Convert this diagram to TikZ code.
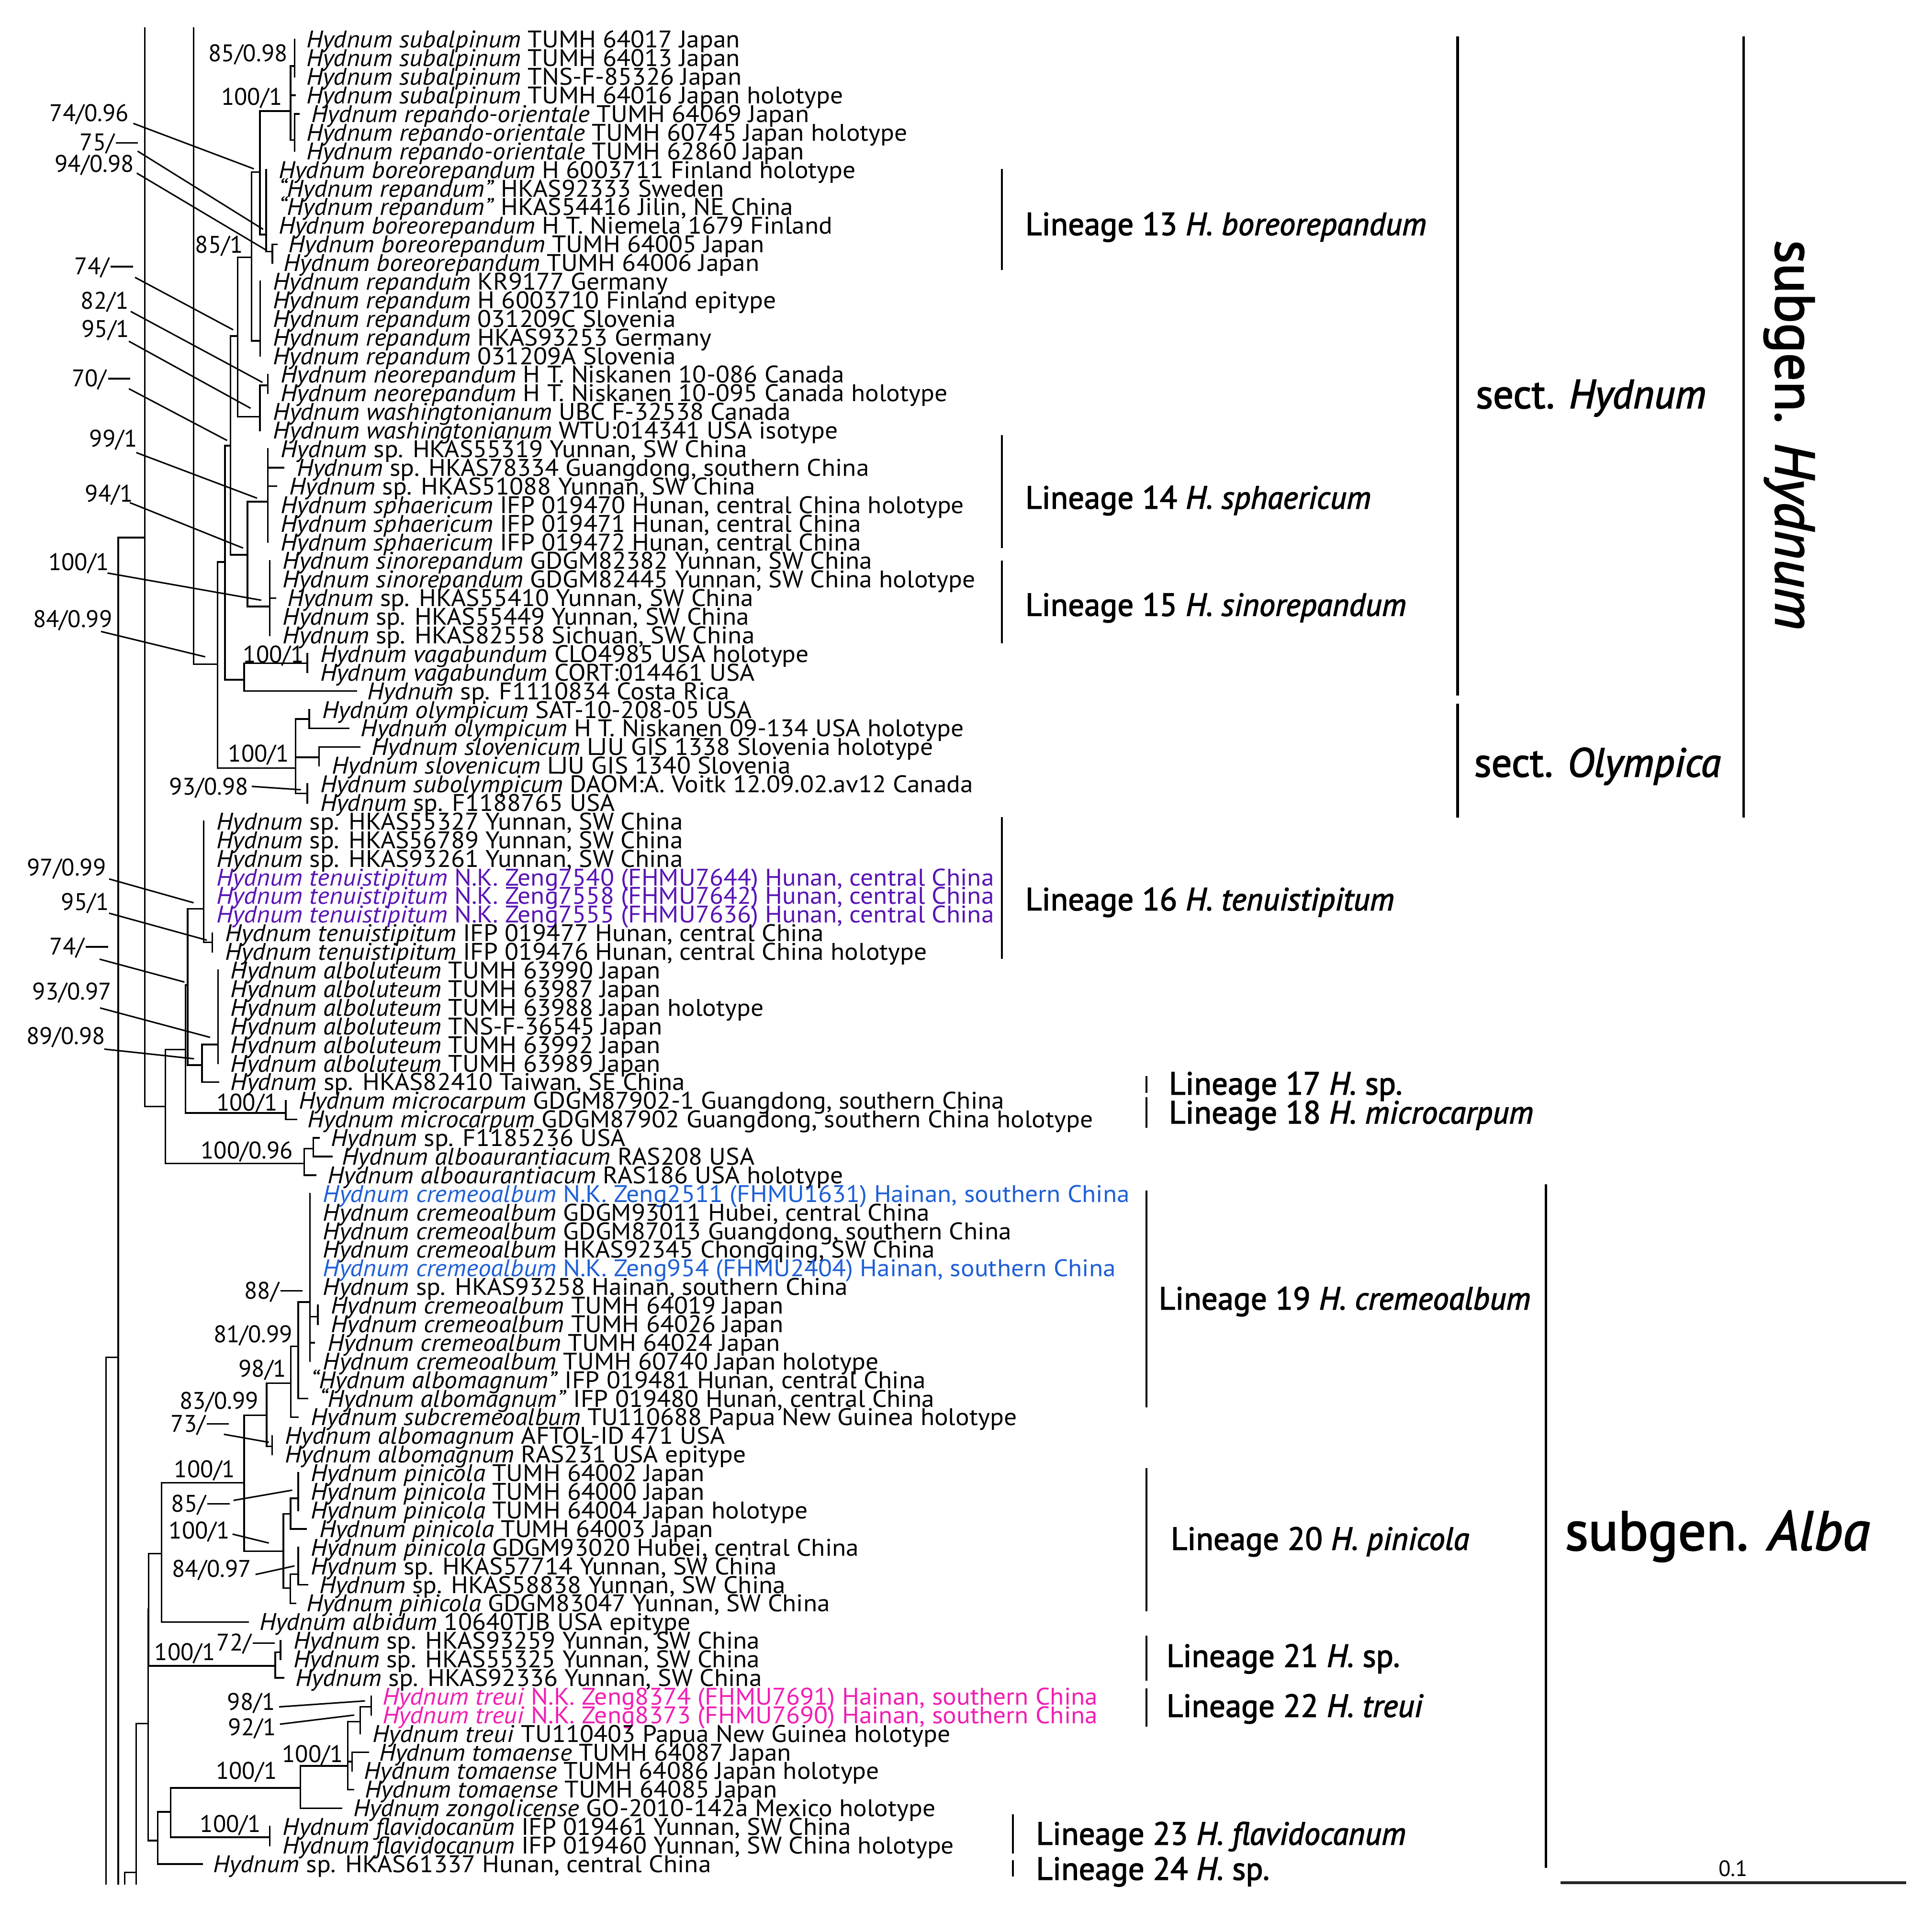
\documentclass[tikz,border=0pt]{standalone}
\usepackage{fontspec}
\setmainfont{PT Sans}
\newfontfamily\spfont[FakeStretch=1.065]{PT Sans}
\newfontfamily\labfont[FakeBold=2.2]{PT Sans}
\definecolor{purp}{RGB}{88,20,180}
\definecolor{blu}{RGB}{30,95,215}
\definecolor{mag}{RGB}{240,30,180}
\pgfmathdeclarefunction{yy}{1}{\pgfmathparse{(#1-16.89)/15.11}}
\newcommand{\dsh}{\hspace{0.06em}\rule[0.3em]{0.92em}{1.25pt}}
\tikzset{
 br/.style={line width=1.3pt, line cap=rect},
 tx/.style={anchor=base west, inner sep=0pt, yshift=-6.8pt, font=\spfont\fontsize{19.5}{19.5}\selectfont},
 sl/.style={anchor=base, inner sep=0pt, yshift=-6.8pt, font=\fontsize{19.5}{19.5}\selectfont},
 ptr/.style={line width=1.2pt},
 lbar/.style={line width=1.6pt},
 sbar/.style={line width=2pt},
 lin/.style={anchor=base west, inner sep=0pt, yshift=-8.8pt, font=\labfont\fontsize{26}{26}\selectfont},
}
\begin{document}
\begin{tikzpicture}[x=1pt,y=-15.11pt]
\fill[white] (0,-1.1178) rectangle (1568,101.463);
\useasboundingbox (0,-1.1178) rectangle (1568,101.463);

% ---------------- tree ----------------
\begin{scope}[br]
% root / long lines
\draw (117.6,0.4) -- (117.6,58.32);
\draw (157.1,0.4) -- (157.1,34.55);
\draw (95.9,27.76) -- (117.6,27.76);
\draw (95.9,27.76) -- (95.9,100.07);
\draw (86.1,71.78) -- (95.9,71.78);
\draw (86.1,71.78) -- (86.1,100.07);
\draw (110.6,91.46) -- (110.6,100.07);
\draw (101.1,99.45) -- (110.6,99.45);
\draw (101.1,99.45) -- (101.1,100.07);
% subalpinum / repando-orientale
\draw (239,1) -- (239,3);
\draw (235.8,2.43) -- (239,2.43);
\draw (235.8,2.43) -- (235.8,6.41);
\draw (235.8,4) -- (239.5,4);
\draw (235.8,6.41) -- (239,6.41);
\draw (239,5) -- (239,7);
\draw (239,5) -- (242.4,5);
\draw (210.9,4.85) -- (235.8,4.85);
\draw (210.9,4.85) -- (210.9,11.48);
\draw (204.2,8.12) -- (210.9,8.12);
% lineage 13
\draw (210.9,11.48) -- (216,11.48);
\draw (216,8) -- (216,12.4);
\draw (216,12.4) -- (221,12.4);
\draw (221,12) -- (221,13);
\draw (221,12) -- (224.7,12);
\draw (204.2,8.12) -- (204.2,17.19);
\draw (193,12.71) -- (204.2,12.71);
% repandum
\draw (204.2,17.19) -- (211.2,17.19);
\draw (211.2,14) -- (211.2,18);
\draw (193,12.71) -- (193,21.26);
\draw (187,16.93) -- (193,16.93);
% neorepandum / washingtonianum
\draw (193,21.26) -- (211,21.26);
\draw (211,19.58) -- (211,22);
\draw (211,19.58) -- (217.3,19.58);
\draw (217.3,19) -- (217.3,20);
\draw (187,16.93) -- (187,28.68);
\draw (182.6,22.82) -- (187,22.82);
% lineage 14 / 15
\draw (187,28.68) -- (200.8,28.68);
\draw (200.8,25.83) -- (200.8,31.46);
\draw (200.8,25.83) -- (217.3,25.83);
\draw (217.3,23) -- (217.3,28);
\draw (217.3,24) -- (230.3,24);
\draw (217.3,25) -- (224.2,25);
\draw (200.8,31.46) -- (219,31.46);
\draw (219,29) -- (219,33);
\draw (219,31) -- (223.4,31);
\draw (182.6,22.82) -- (182.6,35.39);
\draw (176.5,29.07) -- (182.6,29.07);
% vagabundum
\draw (182.6,35.39) -- (198.2,35.39);
\draw (198.2,34.5) -- (198.2,36);
\draw (198.2,34.5) -- (249.4,34.5);
\draw (249.4,34) -- (249.4,35);
\draw (198.2,36) -- (289.2,36);
\draw (176.5,29.07) -- (176.5,40.13);
\draw (157.1,34.55) -- (176.5,34.55);
% olympica
\draw (176.5,40.13) -- (239.8,40.13);
\draw (239.8,37.5) -- (239.8,41.5);
\draw (239.8,37.5) -- (251,37.5);
\draw (251,37) -- (251,38);
\draw (251,38) -- (283,38);
\draw (239.8,39.56) -- (258.9,39.56);
\draw (258.9,39) -- (258.9,40);
\draw (258.9,39) -- (291.9,39);
\draw (239.8,41.5) -- (249.4,41.5);
\draw (249.4,41) -- (249.4,42);
% lineage 16
\draw (152.3,47.7) -- (165.3,47.7);
\draw (165.3,43) -- (165.3,49.5);
\draw (165.3,49.5) -- (172.2,49.5);
\draw (172.2,49) -- (172.2,50);
% alboluteum
\draw (152.3,47.7) -- (152.3,56.09);
\draw (152.3,56.09) -- (163.9,56.09);
\draw (163.9,54.98) -- (163.9,57);
\draw (163.9,54.98) -- (176.9,54.98);
\draw (176.9,51) -- (176.9,56);
\draw (163.9,57) -- (177.4,57);
\draw (150.5,51.8) -- (152.3,51.8);
% microcarpum
\draw (150.5,51.8) -- (150.5,58.66);
\draw (150.5,58.66) -- (232,58.66);
\draw (232,58) -- (232,59);
\draw (232,59) -- (240.7,59);
\draw (134.1,55.26) -- (150.5,55.26);
\draw (134.1,55.26) -- (134.1,61.38);
\draw (117.6,58.32) -- (134.1,58.32);
% alboaurantiacum
\draw (134.1,61.38) -- (246.8,61.38);
\draw (246.8,60.58) -- (246.8,62);
\draw (246.8,60.58) -- (254.2,60.58);
\draw (254.2,60) -- (254.2,61);
\draw (254.2,60) -- (259,60);
\draw (254.2,61) -- (269.3,61);
\draw (246.8,62) -- (256.3,62);
% lineage 19
\draw (251.6,63) -- (251.6,72);
\draw (251.6,69.6) -- (258,69.6);
\draw (258,69) -- (258,70);
\draw (251.6,71) -- (255,71);
\draw (242,68.82) -- (251.6,68.82);
\draw (242,68.82) -- (242,74);
\draw (242,74) -- (249.4,74);
\draw (236,71.2) -- (242,71.2);
\draw (236,71.2) -- (236,75);
\draw (236,75) -- (241.6,75);
\draw (216.4,73.17) -- (236,73.17);
\draw (216.4,73.17) -- (216.4,76.57);
\draw (216.4,76.57) -- (220.8,76.57);
\draw (220.8,76) -- (220.8,77);
\draw (198.2,74.9) -- (216.4,74.9);
\draw (198.2,74.9) -- (198.2,82.2);
\draw (198.2,82.2) -- (230,82.2);
% lineage 20
\draw (230,80.19) -- (230,84.18);
\draw (230,80.19) -- (235.8,80.19);
\draw (235.8,79.36) -- (235.8,81);
\draw (235.8,79.36) -- (242,79.36);
\draw (242,78) -- (242,80);
\draw (235.8,81) -- (248.5,81);
\draw (230,84.18) -- (235.5,84.18);
\draw (235.5,83.43) -- (235.5,85);
\draw (235.5,83.43) -- (242,83.43);
\draw (242,82) -- (242,84);
\draw (242,84) -- (249.4,84);
\draw (235.5,85) -- (239.8,85);
\draw (131.1,78.52) -- (198.2,78.52);
\draw (131.1,78.52) -- (131.1,86);
\draw (131.1,86) -- (201.2,86);
\draw (120.7,82.32) -- (131.1,82.32);
% lineage 21
\draw (120.7,82.32) -- (120.7,88.36);
\draw (120.7,88.36) -- (223.4,88.36);
\draw (223.4,87.62) -- (223.4,89);
\draw (223.4,87.62) -- (227.7,87.62);
\draw (227.7,87) -- (227.7,88);
\draw (223.4,89) -- (230.3,89);
\draw (120.2,85.31) -- (120.7,85.31);
\draw (120.2,85.31) -- (120.2,97.74);
\draw (110.6,91.46) -- (120.2,91.46);
\draw (120.2,97.74) -- (128,97.74);
% lower clades
\draw (128,96.2) -- (128,99);
\draw (128,99) -- (164,99);
\draw (128,96.2) -- (138.4,96.2);
\draw (138.4,94.91) -- (138.4,97.56);
\draw (138.4,97.56) -- (219,97.56);
\draw (219,97) -- (219,98);
\draw (138.4,94.91) -- (243.8,94.91);
\draw (243.8,93.73) -- (243.8,96);
\draw (243.8,96) -- (277.1,96);
\draw (243.8,93.73) -- (282.3,93.73);
\draw (282.3,91.35) -- (282.3,95);
\draw (282.3,95) -- (287,95);
\draw (282.3,93.5) -- (285.8,93.5);
\draw (285.8,93) -- (285.8,94);
\draw (285.8,93) -- (298.8,93);
\draw (282.3,91.35) -- (292.4,91.35);
\draw (292.4,90.56) -- (292.4,92);
\draw (292.4,90.56) -- (301.4,90.56);
\draw (301.4,90) -- (301.4,91);
\end{scope}

% ---------------- pointer lines ----------------
\begin{scope}[ptr]
\draw (108.2,5.51) -- (206,7.95);
\draw (111.7,7.0) -- (213.6,11.2);
\draw (111,8.18) -- (216.4,12.33);
\draw (109.6,13.78) -- (189.3,16.6);
\draw (106.1,15.61) -- (213,19.42);
\draw (104.6,17.21) -- (203.4,20.81);
\draw (104.6,19.76) -- (184.3,22.54);
\draw (110.6,23.19) -- (208.6,25.64);
\draw (105.4,25.88) -- (197.3,28.32);
\draw (87.2,29.66) -- (212,31.12);
\draw (82,32.8) -- (166.5,34.16);
\draw (204.3,41.12) -- (244.2,41.3);
\draw (88.5,46.09) -- (157.1,47.37);
\draw (88.5,47.93) -- (167.9,49.38);
\draw (80.8,50.4) -- (149.7,51.63);
\draw (81.2,53.02) -- (170.5,54.6);
\draw (84.6,55.23) -- (157.5,55.75);
\draw (181.7,75.92) -- (218.2,76.35);
\draw (189.5,79.47) -- (237.2,78.92);
\draw (188.7,81.28) -- (218.2,81.76);
\draw (207.4,83.45) -- (239,82.99);
\draw (226.5,90.56) -- (296.2,90.24);
\draw (227.2,91.49) -- (287.5,91.0);
\end{scope}

% ---------------- support values ----------------
\node[sl] (s1) at (201.3,1.73) {85/0.98};
\node[sl] (s2) at (204.3,4.07) {100/1};
\node[sl] (s3) at (72.4,4.96) {74/0.96};
\node[sl] (s4) at (88.4,6.53) {75/\dsh};
\node[sl] (s5) at (76.6,7.68) {94/0.98};
\node[sl] (s6) at (177.9,12.03) {85/1};
\node[sl] (s7) at (84.2,13.18) {74/\dsh};
\node[sl] (s8) at (85,15.02) {82/1};
\node[sl] (s9) at (85.6,16.55) {95/1};
\node[sl] (s10) at (82,19.2) {70/\dsh};
\node[sl] (s11) at (92,22.43) {99/1};
\node[sl] (s12) at (88.5,25.4) {94/1};
\node[sl] (s13) at (64,29.07) {100/1};
\node[sl] (s14) at (59,32.13) {84/0.99};
\node[sl] (s15) at (222,34.04) {100/1};
\node[sl] (s16) at (209.9,39.35) {100/1};
\node[sl] (s17) at (169.6,41.12) {93/0.98};
\node[sl] (s18) at (54,45.47) {97/0.99};
\node[sl] (s19) at (69,47.32) {95/1};
\node[sl] (s20) at (64,49.72) {74/\dsh};
\node[sl] (s21) at (58.5,52.13) {93/0.97};
\node[sl] (s22) at (53.5,54.53) {89/0.98};
\node[sl] (s23) at (200.4,58.1) {100/1};
\node[sl] (s24) at (200.4,60.66) {100/0.96};
\node[sl] (s25) at (222,68.19) {88/\dsh};
\node[sl] (s26) at (205.4,70.55) {81/0.99};
\node[sl] (s27) at (213,72.39) {98/1};
\node[sl] (s28) at (177.8,74.12) {83/0.99};
\node[sl] (s29) at (162.2,75.34) {73/\dsh};
\node[sl] (s30) at (166.1,77.8) {100/1};
\node[sl] (s31) at (162.7,79.64) {85/\dsh};
\node[sl] (s32) at (161.8,81.09) {100/1};
\node[sl] (s33) at (171.8,83.15) {84/0.97};
\node[sl] (s34) at (150.1,87.62) {100/1};
\node[sl] (s35) at (199.5,87.11) {72/\dsh};
\node[sl] (s36) at (203.9,90.28) {98/1};
\node[sl] (s37) at (204.7,91.64) {92/1};
\node[sl] (s38) at (253.7,93.1) {100/1};
\node[sl] (s39) at (200,94.0) {100/1};
\node[sl] (s40) at (187,96.83) {100/1};

% ---------------- taxa ----------------
\node[tx] (t1) at (248.5,1) {\textit{Hydnum subalpinum} TUMH 64017 Japan};
\node[tx] (t2) at (248.5,2) {\textit{Hydnum subalpinum} TUMH 64013 Japan};
\node[tx] (t3) at (248.5,3) {\textit{Hydnum subalpinum} TNS-F-85326 Japan};
\node[tx] (t4) at (248.5,4) {\textit{Hydnum subalpinum} TUMH 64016 Japan holotype};
\node[tx] (t5) at (252.5,5) {\textit{Hydnum repando-orientale} TUMH 64069 Japan};
\node[tx] (t6) at (248.5,6) {\textit{Hydnum repando-orientale} TUMH 60745 Japan holotype};
\node[tx] (t7) at (248.5,7) {\textit{Hydnum repando-orientale} TUMH 62860 Japan};
\node[tx] (t8) at (226,8) {\textit{Hydnum boreorepandum} H 6003711 Finland holotype};
\node[tx] (t9) at (226,9) {\textit{“Hydnum repandum”} HKAS92333 Sweden};
\node[tx] (t10) at (226,10) {\textit{“Hydnum repandum”} HKAS54416 Jilin, NE China};
\node[tx] (t11) at (226,11) {\textit{Hydnum boreorepandum} H T. Niemela 1679 Finland};
\node[tx] (t12) at (234,12) {\textit{Hydnum boreorepandum} TUMH 64005 Japan};
\node[tx] (t13) at (230,13) {\textit{Hydnum boreorepandum} TUMH 64006 Japan};
\node[tx] (t14) at (221.5,14) {\textit{Hydnum repandum} KR9177 Germany};
\node[tx] (t15) at (221.5,15) {\textit{Hydnum repandum} H 6003710 Finland epitype};
\node[tx] (t16) at (221.5,16) {\textit{Hydnum repandum} 031209C Slovenia};
\node[tx] (t17) at (221.5,17) {\textit{Hydnum repandum} HKAS93253 Germany};
\node[tx] (t18) at (221.5,18) {\textit{Hydnum repandum} 031209A Slovenia};
\node[tx] (t19) at (227.7,19) {\textit{Hydnum neorepandum} H T. Niskanen 10-086 Canada};
\node[tx] (t20) at (227.7,20) {\textit{Hydnum neorepandum} H T. Niskanen 10-095 Canada holotype};
\node[tx] (t21) at (221.6,21) {\textit{Hydnum washingtonianum} UBC F-32538 Canada};
\node[tx] (t22) at (221.6,22) {\textit{Hydnum washingtonianum} WTU:014341 USA isotype};
\node[tx] (t23) at (227.7,23) {\textit{Hydnum} sp. HKAS55319 Yunnan, SW China};
\node[tx] (t24) at (240.7,24) {\textit{Hydnum} sp. HKAS78334 Guangdong, southern China};
\node[tx] (t25) at (234.6,25) {\textit{Hydnum} sp. HKAS51088 Yunnan, SW China};
\node[tx] (t26) at (227.7,26) {\textit{Hydnum sphaericum} IFP 019470 Hunan, central China holotype};
\node[tx] (t27) at (227.7,27) {\textit{Hydnum sphaericum} IFP 019471 Hunan, central China};
\node[tx] (t28) at (227.7,28) {\textit{Hydnum sphaericum} IFP 019472 Hunan, central China};
\node[tx] (t29) at (229.4,29) {\textit{Hydnum sinorepandum} GDGM82382 Yunnan, SW China};
\node[tx] (t30) at (229.4,30) {\textit{Hydnum sinorepandum} GDGM82445 Yunnan, SW China holotype};
\node[tx] (t31) at (232.9,31) {\textit{Hydnum} sp. HKAS55410 Yunnan, SW China};
\node[tx] (t32) at (229.4,32) {\textit{Hydnum} sp. HKAS55449 Yunnan, SW China};
\node[tx] (t33) at (229.4,33) {\textit{Hydnum} sp. HKAS82558 Sichuan, SW China};
\node[tx] (t34) at (259.8,34) {\textit{Hydnum vagabundum} CLO4985 USA holotype};
\node[tx] (t35) at (259.8,35) {\textit{Hydnum vagabundum} CORT:014461 USA};
\node[tx] (t36) at (298,36) {\textit{Hydnum} sp. F1110834 Costa Rica};
\node[tx] (t37) at (261.5,37) {\textit{Hydnum olympicum} SAT-10-208-05 USA};
\node[tx] (t38) at (292.7,38) {\textit{Hydnum olympicum} H T. Niskanen 09-134 USA holotype};
\node[tx] (t39) at (301.4,39) {\textit{Hydnum slovenicum} LJU GIS 1338 Slovenia holotype};
\node[tx] (t40) at (269.3,40) {\textit{Hydnum slovenicum} LJU GIS 1340 Slovenia};
\node[tx] (t41) at (259.8,41) {\textit{Hydnum subolympicum} DAOM:A. Voitk 12.09.02.av12 Canada};
\node[tx] (t42) at (259.8,42) {\textit{Hydnum} sp. F1188765 USA};
\node[tx] (t43) at (175.7,43) {\textit{Hydnum} sp. HKAS55327 Yunnan, SW China};
\node[tx] (t44) at (175.7,44) {\textit{Hydnum} sp. HKAS56789 Yunnan, SW China};
\node[tx] (t45) at (175.7,45) {\textit{Hydnum} sp. HKAS93261 Yunnan, SW China};
\node[tx,text=purp] (t46) at (175.7,46) {\textit{Hydnum tenuistipitum} N.K. Zeng7540 (FHMU7644) Hunan, central China};
\node[tx,text=purp] (t47) at (175.7,47) {\textit{Hydnum tenuistipitum} N.K. Zeng7558 (FHMU7642) Hunan, central China};
\node[tx,text=purp] (t48) at (175.7,48) {\textit{Hydnum tenuistipitum} N.K. Zeng7555 (FHMU7636) Hunan, central China};
\node[tx] (t49) at (182.6,49) {\textit{Hydnum tenuistipitum} IFP 019477 Hunan, central China};
\node[tx] (t50) at (182.6,50) {\textit{Hydnum tenuistipitum} IFP 019476 Hunan, central China holotype};
\node[tx] (t51) at (187,51) {\textit{Hydnum alboluteum} TUMH 63990 Japan};
\node[tx] (t52) at (187,52) {\textit{Hydnum alboluteum} TUMH 63987 Japan};
\node[tx] (t53) at (187,53) {\textit{Hydnum alboluteum} TUMH 63988 Japan holotype};
\node[tx] (t54) at (187,54) {\textit{Hydnum alboluteum} TNS-F-36545 Japan};
\node[tx] (t55) at (187,55) {\textit{Hydnum alboluteum} TUMH 63992 Japan};
\node[tx] (t56) at (187,56) {\textit{Hydnum alboluteum} TUMH 63989 Japan};
\node[tx] (t57) at (187,57) {\textit{Hydnum} sp. HKAS82410 Taiwan, SE China};
\node[tx] (t58) at (242.4,58) {\textit{Hydnum microcarpum} GDGM87902-1 Guangdong, southern China};
\node[tx] (t59) at (249.4,59) {\textit{Hydnum microcarpum} GDGM87902 Guangdong, southern China holotype};
\node[tx] (t60) at (268.4,60) {\textit{Hydnum} sp. F1185236 USA};
\node[tx] (t61) at (277.5,61) {\textit{Hydnum alboaurantiacum} RAS208 USA};
\node[tx] (t62) at (265.8,62) {\textit{Hydnum alboaurantiacum} RAS186 USA holotype};
\node[tx,text=blu] (t63) at (262,63) {\textit{Hydnum cremeoalbum} N.K. Zeng2511 (FHMU1631) Hainan, southern China};
\node[tx] (t64) at (262,64) {\textit{Hydnum cremeoalbum} GDGM93011 Hubei, central China};
\node[tx] (t65) at (262,65) {\textit{Hydnum cremeoalbum} GDGM87013 Guangdong, southern China};
\node[tx] (t66) at (262,66) {\textit{Hydnum cremeoalbum} HKAS92345 Chongqing, SW China};
\node[tx,text=blu] (t67) at (262,67) {\textit{Hydnum cremeoalbum} N.K. Zeng954 (FHMU2404) Hainan, southern China};
\node[tx] (t68) at (262,68) {\textit{Hydnum} sp. HKAS93258 Hainan, southern China};
\node[tx] (t69) at (268.4,69) {\textit{Hydnum cremeoalbum} TUMH 64019 Japan};
\node[tx] (t70) at (268.4,70) {\textit{Hydnum cremeoalbum} TUMH 64026 Japan};
\node[tx] (t71) at (265.8,71) {\textit{Hydnum cremeoalbum} TUMH 64024 Japan};
\node[tx] (t72) at (262,72) {\textit{Hydnum cremeoalbum} TUMH 60740 Japan holotype};
\node[tx] (t73) at (252,73) {\textit{“Hydnum albomagnum”} IFP 019481 Hunan, central China};
\node[tx] (t74) at (259,74) {\textit{“Hydnum albomagnum”} IFP 019480 Hunan, central China};
\node[tx] (t75) at (252,75) {\textit{Hydnum subcremeoalbum} TU110688 Papua New Guinea holotype};
\node[tx] (t76) at (231.2,76) {\textit{Hydnum albomagnum} AFTOL-ID 471 USA};
\node[tx] (t77) at (231.2,77) {\textit{Hydnum albomagnum} RAS231 USA epitype};
\node[tx] (t78) at (252,78) {\textit{Hydnum pinicola} TUMH 64002 Japan};
\node[tx] (t79) at (252,79) {\textit{Hydnum pinicola} TUMH 64000 Japan};
\node[tx] (t80) at (252,80) {\textit{Hydnum pinicola} TUMH 64004 Japan holotype};
\node[tx] (t81) at (259,81) {\textit{Hydnum pinicola} TUMH 64003 Japan};
\node[tx] (t82) at (252,82) {\textit{Hydnum pinicola} GDGM93020 Hubei, central China};
\node[tx] (t83) at (252,83) {\textit{Hydnum} sp. HKAS57714 Yunnan, SW China};
\node[tx] (t84) at (259,84) {\textit{Hydnum} sp. HKAS58838 Yunnan, SW China};
\node[tx] (t85) at (248.5,85) {\textit{Hydnum pinicola} GDGM83047 Yunnan, SW China};
\node[tx] (t86) at (210.4,86) {\textit{Hydnum albidum} 10640TJB USA epitype};
\node[tx] (t87) at (238,87) {\textit{Hydnum} sp. HKAS93259 Yunnan, SW China};
\node[tx] (t88) at (238,88) {\textit{Hydnum} sp. HKAS55325 Yunnan, SW China};
\node[tx] (t89) at (239.8,89) {\textit{Hydnum} sp. HKAS92336 Yunnan, SW China};
\node[tx,text=mag] (t90) at (310.5,90) {\textit{Hydnum treui} N.K. Zeng8374 (FHMU7691) Hainan, southern China};
\node[tx,text=mag] (t91) at (310.5,91) {\textit{Hydnum treui} N.K. Zeng8373 (FHMU7690) Hainan, southern China};
\node[tx] (t92) at (302.3,92) {\textit{Hydnum treui} TU110403 Papua New Guinea holotype};
\node[tx] (t93) at (307.5,93) {\textit{Hydnum tomaense} TUMH 64087 Japan};
\node[tx] (t94) at (295.3,94) {\textit{Hydnum tomaense} TUMH 64086 Japan holotype};
\node[tx] (t95) at (296,95) {\textit{Hydnum tomaense} TUMH 64085 Japan};
\node[tx] (t96) at (286.7,96) {\textit{Hydnum zongolicense} GO-2010-142a Mexico holotype};
\node[tx] (t97) at (229.4,97) {\textit{Hydnum flavidocanum} IFP 019461 Yunnan, SW China};
\node[tx] (t98) at (229.4,98) {\textit{Hydnum flavidocanum} IFP 019460 Yunnan, SW China holotype};
\node[tx] (t99) at (173,99) {\textit{Hydnum} sp. HKAS61337 Hunan, central China};

% ---------------- lineage bars and labels ----------------
\begin{scope}[lbar]
\draw (813,{yy(137)}) -- (813,{yy(219)});
\draw (813,{yy(353)}) -- (813,{yy(445)});
\draw (813,{yy(455)}) -- (813,{yy(522)});
\draw (813,{yy(663)}) -- (813,{yy(778)});
\draw (930.5,{yy(873.3)}) -- (930.5,{yy(886.9)});
\draw (930.5,{yy(890.6)}) -- (930.5,{yy(915.4)});
\draw (930.5,{yy(966.2)}) -- (930.5,{yy(1142.2)});
\draw (930.5,{yy(1191.7)}) -- (930.5,{yy(1307.8)});
\draw (930.5,{yy(1327.6)}) -- (930.5,{yy(1364)});
\draw (930.5,{yy(1370.4)}) -- (930.5,{yy(1401.2)});
\draw (822,{yy(1472.5)}) -- (822,{yy(1504.1)});
\draw (822,{yy(1509.7)}) -- (822,{yy(1523.1)});
\end{scope}
\node[lin] (l13) at (832,{yy(182)}) {Lineage 13 \textit{H. boreorepandum}};
\node[lin] (l14) at (832,{yy(404)}) {Lineage 14 \textit{H. sphaericum}};
\node[lin] (l15) at (832,{yy(491)}) {Lineage 15 \textit{H. sinorepandum}};
\node[lin] (l16) at (832,{yy(730)}) {Lineage 16 \textit{H. tenuistipitum}};
\node[lin] (l17) at (948.5,{yy(879.5)}) {Lineage 17 \textit{H.} sp.};
\node[lin] (l18) at (948.5,{yy(903)}) {Lineage 18 \textit{H. microcarpum}};
\node[lin] (l19) at (940.2,{yy(1054)}) {Lineage 19 \textit{H. cremeoalbum}};
\node[lin] (l20) at (950,{yy(1249)}) {Lineage 20 \textit{H. pinicola}};
\node[lin] (l21) at (946.5,{yy(1344)}) {Lineage 21 \textit{H.} sp.};
\node[lin] (l22) at (946.5,{yy(1384.6)}) {Lineage 22 \textit{H. treui}};
\node[lin] (l23) at (840.7,{yy(1488.3)}) {Lineage 23 \textit{H. flavidocanum}};
\node[lin] (l24) at (840.7,{yy(1516.8)}) {Lineage 24 \textit{H.} sp.};

% ---------------- sections / subgenera ----------------
\begin{scope}[sbar]
\draw (1183,{yy(29.6)}) -- (1183,{yy(564.5)});
\draw (1183,{yy(570.9)}) -- (1183,{yy(663.5)});
\draw (1415,{yy(29.6)}) -- (1415,{yy(663.5)});
\draw (1254.8,{yy(961.3)}) -- (1254.8,{yy(1516)});
\end{scope}
\node[anchor=base west, inner sep=0pt, yshift=-11pt, font=\labfont\fontsize{33}{33}\selectfont] (secH) at (1197.6,{yy(320.3)}) {sect. \textit{Hydnum}};
\node[anchor=base west, inner sep=0pt, yshift=-11pt, font=\labfont\fontsize{33}{33}\selectfont] (secO) at (1196.3,{yy(619.3)}) {sect. \textit{Olympica}};
\node[inner sep=0pt, rotate=-90, font=\labfont\fontsize{45}{45}\selectfont] (sgH) at (1452,{yy(352.9)}) {subgen. \textit{Hydnum}};
\node[anchor=base west, inner sep=0pt, yshift=-14pt, font=\labfont\fontsize{45}{45}\selectfont] (sgA) at (1270,{yy(1244)}) {subgen. \textit{Alba}};

% ---------------- scale bar ----------------
\draw[line width=2.2pt, black!85] (1266.4,{yy(1527.9)}) -- (1546.9,{yy(1527.9)});
\node[anchor=base, inner sep=0pt, yshift=-6pt, font=\fontsize{18}{18}\selectfont] (sc) at (1406.7,{yy(1516.8)}) {0.1};
\end{tikzpicture}
\end{document}
